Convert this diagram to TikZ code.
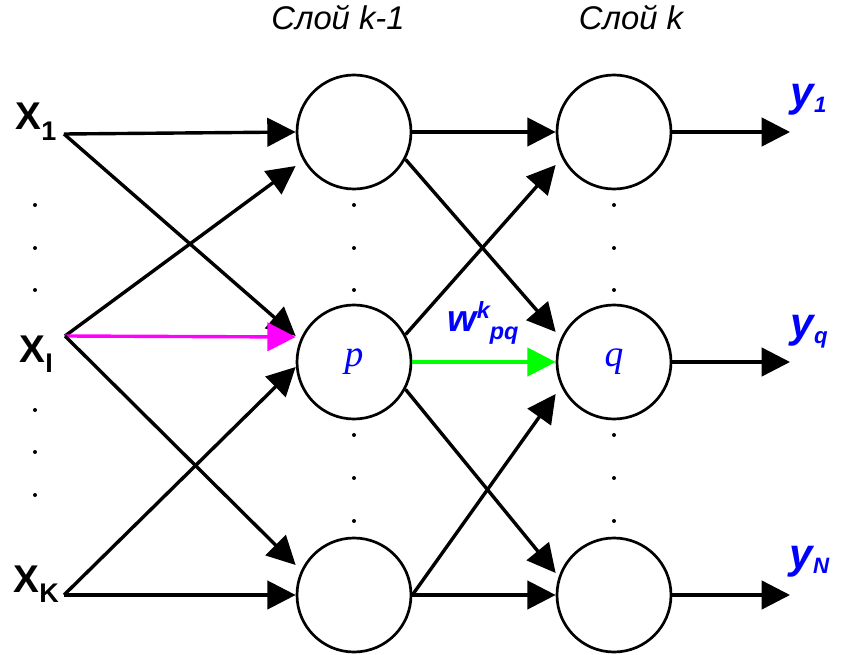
\documentclass[tikz,border=0pt]{standalone}
\usepackage{fontspec}
\setmainfont{Liberation Sans}
\newfontfamily\serifit{Liberation Serif}
\usetikzlibrary{arrows.meta,calc}

\definecolor{pinkarrow}{RGB}{255,0,255}
\definecolor{greenarrow}{RGB}{0,255,0}
\definecolor{labelblue}{RGB}{0,0,255}

\newcommand{\lowidx}[1]{\raisebox{-9pt}{\fontsize{23}{23}\selectfont #1}}
\newcommand{\outidx}[1]{\raisebox{-5pt}{\fontsize{19}{19}\selectfont #1}}

\begin{document}
\begin{tikzpicture}[x=0.03cm,y=-0.03cm,line width=2.9pt,>={Triangle[length=0.85cm,width=0.85cm]},
  neuron/.style={circle,draw,line width=2.3pt,minimum size=3.42cm,inner sep=0pt,
    text=labelblue,font=\serifit\fontsize{32}{32}\selectfont\itshape},
  inp/.style={anchor=base west,inner sep=0pt,font=\fontsize{33}{33}\selectfont\bfseries},
  outl/.style={anchor=base west,inner sep=0pt,text=labelblue,font=\fontsize{36}{36}\selectfont\bfseries\itshape},
  layer/.style={anchor=base,inner sep=0pt,font=\fontsize{28}{28}\selectfont\itshape}]
  \useasboundingbox (0,0) rectangle (843,655);
  % sloi
  \node[layer] (lk1) at (338,30) {Слой k-1};
  \node[layer] (lk) at (631,30) {Слой k};
  \node[neuron] (h1) at (354,132) {};
  \node[neuron] (hp) at (354,362) {p};
  \node[neuron] (h3) at (354,595) {};
  \node[neuron] (o1) at (614,132) {};
  \node[neuron] (oq) at (614,362) {q};
  \node[neuron] (o3) at (614,595) {};
  % vhody
  \node[inp] (lx1) at (14,130) {X\lowidx{1}};
  \node[inp] (lxi) at (18,362) {X\lowidx{I}};
  \node[inp] (lxk) at (12,592) {X\lowidx{K}};
  \coordinate (x1) at (64,134);
  \coordinate (xi) at (65,336);
  \coordinate (xk) at (64,595);
  \draw[->] (x1) -- (h1.west);
  \draw[->] (x1) -- ($(hp.west)+(0,-26)$);
  \draw[->] (xi) -- ($(h1.west)+(0,34)$);
  \draw[->,pinkarrow] (xi) -- ($(hp.west)+(0,-25)$);
  \draw[->] (xi) -- ($(h3.west)+(0,-30)$);
  \draw[->] (xk) -- ($(hp.west)+(0,5)$);
  \draw[->] (xk) -- (h3.west);
  % sloi k-1 -> sloi k
  \draw[->] (h1.east) -- (o1.west);
  \draw[->] (h1.-28) -- ($(oq.west)+(0,-30)$);
  \draw[->] (hp.28) -- ($(o1.west)+(0,33)$);
  \draw[->,greenarrow] (hp.east) -- (oq.west);
  \draw[->] (hp.-28) -- ($(o3.west)+(0,-22)$);
  \draw[->] (h3.east) -- ($(oq.west)+(0,32)$);
  \draw[->] (h3.east) -- (o3.west);
  \node[anchor=base west,inner sep=0pt,text=labelblue,font=\fontsize{32}{32}\selectfont\bfseries\itshape] (wpq) at (446,331)
    {w\raisebox{11pt}{\fontsize{20}{20}\selectfont k}\raisebox{-7pt}{\fontsize{20}{20}\selectfont pq}};
  % vyhody
  \coordinate (y1) at (790,132);
  \coordinate (yq) at (790,362);
  \coordinate (yn) at (790,595);
  \draw[->] (o1.east) -- (y1);
  \draw[->] (oq.east) -- (yq);
  \draw[->] (o3.east) -- (yn);
  \node[outl] (ly1) at (789,107) {y\outidx{1}};
  \node[outl] (lyq) at (789,338) {y\outidx{q}};
  \node[outl] (lyn) at (788,568) {y\outidx{N}};
  % tochki
  \foreach \y in {205,248,290,435,478,521} {
    \fill (354,\y) circle (2);
    \fill (614,\y) circle (2);
  }
  \foreach \y in {205,248,290,410,452,495}
    \fill (35,\y) circle (2);
\end{tikzpicture}
\end{document}
